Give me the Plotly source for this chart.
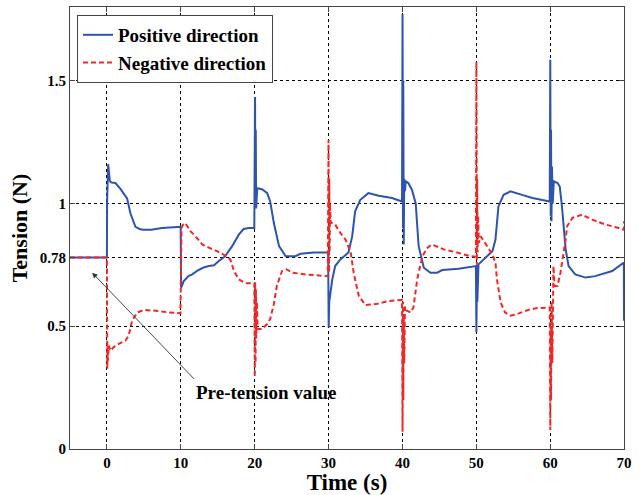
import plotly.graph_objects as go

# ---- data ----
t_pos = [-5, 0, 0.02, 0.16, 0.4, 0.61, 1.15, 1.8, 2.73, 3.18, 3.86, 4.5, 4.98, 6.0, 7.47, 8.5, 9.64, 9.98,
         10.05, 10.4, 11.08, 11.5, 12.2, 13.0, 13.8, 14.5, 15.1, 16.0, 16.95, 17.85, 18.5, 19.2, 19.95,
         20.05, 20.1, 20.15, 20.2, 20.25, 20.3, 20.35, 21.0, 21.7, 22.1, 22.6, 23.3, 24.2, 25.5, 26.2, 28.0, 29.95,
         30.02, 30.1, 30.5, 30.9, 31.6, 32.3, 32.7, 33.2, 33.6, 34.3, 35.4, 36.8, 38.6, 39.95,
         40.02, 40.08, 40.12, 40.18, 40.25, 40.35, 40.45, 40.8, 41.3, 41.8, 42.2, 42.9, 43.8, 44.7, 45.4, 47.6, 49.95,
         50.02, 50.1, 50.15, 50.3, 51.2, 52.2, 52.6, 53.0, 53.7, 54.6, 56.2, 57.6, 59.95,
         60.02, 60.08, 60.12, 60.18, 60.25, 60.35, 60.5, 61.0, 61.3, 61.6, 62.1, 62.5, 63.4, 64.8, 66.1, 68.4, 69.98, 70.0]
v_pos = [0.78, 0.78, 1.0, 1.16, 1.09, 1.085, 1.083, 1.06, 1.02, 0.96, 0.905, 0.895, 0.893, 0.893, 0.90, 0.902, 0.905, 0.905,
         0.657, 0.684, 0.705, 0.71, 0.725, 0.738, 0.745, 0.748, 0.765, 0.785, 0.826, 0.873, 0.896, 0.90, 0.90,
         1.433, 1.0, 1.3, 0.98, 1.06, 0.98, 1.062, 1.058, 1.042, 1.008, 0.92, 0.826, 0.785, 0.785, 0.795, 0.80, 0.80,
         0.495, 0.60, 0.69, 0.745, 0.772, 0.79, 0.80, 0.866, 0.968, 1.015, 1.042, 1.031, 1.022, 1.008,
         1.77, 0.90, 1.5, 0.833, 1.10, 1.05, 1.09, 1.083, 1.055, 1.0, 0.826, 0.738, 0.718, 0.718, 0.729, 0.734, 0.745,
         0.475, 0.75, 0.60, 0.752, 0.779, 0.806, 0.853, 0.988, 1.035, 1.049, 1.035, 1.022, 1.008,
         1.585, 0.95, 1.3, 0.927, 1.15, 1.0, 1.09, 1.083, 1.069, 0.988, 0.813, 0.745, 0.711, 0.698, 0.704, 0.725, 0.759, 0.522]

t_neg = [-5, 0, 0.05, 0.1, 0.15, 0.25, 0.5, 0.92, 1.6, 2.5, 2.95, 3.4, 4.1, 5.0, 6.6, 8.4, 9.95,
         10.1, 10.3, 10.6, 11.3, 12.0, 12.9, 13.8, 14.9, 16.0, 16.7, 17.2, 17.85, 18.75, 19.95,
         20.02, 20.07, 20.12, 20.17, 20.22, 20.3, 20.4, 20.55, 21.0, 21.7, 22.1, 22.6, 23.0, 23.7, 24.3, 25.1, 26.9, 29.9,
         30.0, 30.06, 30.1, 30.15, 30.2, 30.3, 30.5, 30.9, 31.6, 32.3, 33.0, 33.4, 34.1, 35.0, 36.4, 38.2, 39.95,
         40.02, 40.08, 40.12, 40.18, 40.25, 40.35, 40.6, 41.1, 41.5, 42.0, 42.7, 43.4, 44.0, 45.6, 47.4, 49.2, 49.95,
         50.02, 50.08, 50.12, 50.18, 50.25, 50.35, 50.6, 51.5, 52.2, 52.6, 52.8, 53.3, 53.9, 54.6, 55.5, 57.1, 58.2, 59.95,
         60.02, 60.08, 60.12, 60.2, 60.3, 60.45, 60.6, 61.0, 61.4, 62.1, 62.3, 63.0, 64.3, 65.7, 67.5, 68.8, 69.98, 70.0]
v_neg = [0.78, 0.78, 0.327, 0.42, 0.36, 0.421, 0.40, 0.415, 0.428, 0.441, 0.462, 0.522, 0.556, 0.566, 0.563, 0.556, 0.553,
         0.90, 0.914, 0.92, 0.887, 0.866, 0.833, 0.82, 0.806, 0.788, 0.772, 0.725, 0.691, 0.675, 0.675,
         0.293, 0.68, 0.35, 0.65, 0.45, 0.60, 0.49, 0.489, 0.489, 0.509, 0.529, 0.59, 0.664, 0.725, 0.732, 0.718, 0.711, 0.704,
         1.258, 0.72, 1.1, 0.80, 1.0, 0.92, 0.92, 0.914, 0.88, 0.853, 0.80, 0.718, 0.623, 0.586, 0.59, 0.603, 0.607,
         0.07, 0.60, 0.20, 0.55, 0.35, 0.58, 0.563, 0.556, 0.577, 0.69, 0.785, 0.82, 0.833, 0.813, 0.80, 0.785, 0.783,
         1.578, 0.75, 1.1, 0.80, 0.95, 0.84, 0.866, 0.826, 0.792, 0.759, 0.691, 0.597, 0.556, 0.543, 0.549, 0.567, 0.574, 0.576,
         0.077, 0.50, 0.20, 0.60, 0.35, 0.745, 0.664, 0.664, 0.718, 0.853, 0.907, 0.941, 0.954, 0.934, 0.914, 0.904, 0.893, 0.927]

x_ticks = [0, 10, 20, 30, 40, 50, 60, 70]
y_ticks = [0, 0.5, 0.78, 1, 1.5]
y_tick_text = ["0", "0.5", "0.78", "1", "1.5"]

FONT = "Liberation Serif"

fig = go.Figure()
fig.add_trace(go.Scatter(x=t_pos, y=v_pos, mode="lines", name="Positive direction",
                         line=dict(color="#2E54B0", width=2)))
fig.add_trace(go.Scatter(x=t_neg, y=v_neg, mode="lines", name="Negative direction",
                         line=dict(color="#F02828", width=2, dash="5px,3px")))

# arrow
fig.add_annotation(x=-2.0, y=0.718, ax=12.0, ay=0.279, axref="x", ayref="y", xref="x", yref="y",
                   text="", showarrow=True, arrowhead=2, arrowsize=1.2, arrowwidth=0.9, arrowcolor="#333333",
                   standoff=0, startstandoff=0)
fig.add_annotation(x=21.6, y=0.232, xref="x", yref="y", text="Pre-tension value", showarrow=False,
                   font=dict(family=FONT, size=19, color="black", weight="bold"))

axis_common = dict(showgrid=True, gridcolor="black", griddash="dot", gridwidth=1,
                   showline=True, linecolor="#444444", linewidth=1, mirror="ticks",
                   ticks="inside", ticklen=5, tickcolor="#444444", zeroline=False,
                   tickfont=dict(family=FONT, size=15, color="black", weight="bold"))

fig.update_xaxes(range=[-5, 70], tickmode="array", tickvals=x_ticks,
                 title=dict(text="Time (s)", font=dict(family=FONT, size=23, color="black", weight="bold"), standoff=2),
                 **axis_common)
fig.update_yaxes(range=[0, 1.8], tickmode="array", tickvals=y_ticks, ticktext=y_tick_text,
                 title=dict(text="Tension (N)", font=dict(family=FONT, size=22, color="black", weight="bold"), standoff=6),
                 **axis_common)

fig.update_layout(
    width=639, height=495,
    margin=dict(l=70, r=15, t=6, b=44),
    plot_bgcolor="white", paper_bgcolor="white",
    showlegend=True,
    legend=dict(x=0.0126, y=0.982, xanchor="left", yanchor="top",
                bgcolor="white", bordercolor="#444444", borderwidth=1,
                font=dict(family=FONT, size=19, color="black", weight="bold"),
                tracegroupgap=0, itemwidth=30),
)

fig.write_html("out.html")
